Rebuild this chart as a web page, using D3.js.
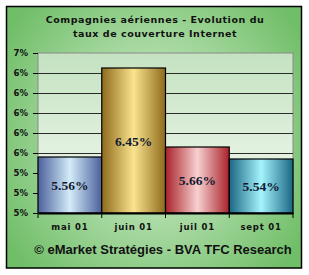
<!DOCTYPE html>
<html>
<head>
<meta charset="utf-8">
<script src="https://cdn.jsdelivr.net/npm/d3@7"></script>
<style>
  body { margin: 0; background: #fff; }
</style>
</head>
<body>
<div id="chart"></div>
<script>
// data
let months = ['mai 01', 'juin 01', 'juil 01', 'sept 01']
let taux = [5.56, 6.45, 5.66, 5.54]
let yTicks = [5.0, 5.2, 5.4, 5.6, 5.8, 6.0, 6.2, 6.4, 6.6]
let titleLines = ['Compagnies aériennes - Evolution du', 'taux de couverture Internet']
let source = '© eMarket Stratégies - BVA TFC Research'

let W = 309, H = 275
let margin = {top: 53, right: 16, bottom: 62, left: 38}
let width = W - margin.left - margin.right
let height = H - margin.top - margin.bottom

let svg = d3.select('div#chart')
  .append('svg')
    .attr('width', W)
    .attr('height', H)

let defs = svg.append('defs')

let bg = defs.append('radialGradient')
  .attr('id', 'bg')
  .attr('cx', '50%').attr('cy', '50%').attr('r', '60%')
  .attr('gradientTransform', 'translate(0.5,0.5) scale(1,1.2) translate(-0.5,-0.5)')
bg.append('stop').attr('offset', '0%').attr('stop-color', '#f2faef')
bg.append('stop').attr('offset', '40%').attr('stop-color', '#b0ddaa')
bg.append('stop').attr('offset', '100%').attr('stop-color', '#70be68')

let plotBg = defs.append('linearGradient')
  .attr('id', 'plotbg')
  .attr('x1', 0).attr('y1', 0).attr('x2', 0).attr('y2', 1)
plotBg.append('stop').attr('offset', '0%').attr('stop-color', '#c4e2c0')
plotBg.append('stop').attr('offset', '100%').attr('stop-color', '#f4fbf2')

let barColors = [
  ['#4c609c', '#d2ecf8'],
  ['#8e6a1c', '#fae48e'],
  ['#a8222a', '#f8d0d0'],
  ['#1a6684', '#a4f4fc']
]
barColors.forEach((c, i) => {
  let g = defs.append('linearGradient')
    .attr('id', 'bar' + i)
    .attr('x1', 0).attr('y1', 0).attr('x2', 1).attr('y2', 0)
  g.append('stop').attr('offset', '0%').attr('stop-color', c[0])
  g.append('stop').attr('offset', '50%').attr('stop-color', c[1])
  g.append('stop').attr('offset', '100%').attr('stop-color', c[0])
})

// outer frame
svg.append('rect')
  .attr('x', 6.5).attr('y', 6.5)
  .attr('width', 295).attr('height', 261.5)
  .attr('fill', 'url(#bg)')
  .attr('stroke', '#000')
  .attr('stroke-width', 1.5)

// title
svg.append('g').selectAll('text')
  .data(titleLines)
  .enter().append('text')
    .attr('x', 155)
    .attr('y', (d, i) => 23 + i * 14)
    .attr('text-anchor', 'middle')
    .attr('font-family', 'DejaVu Sans, Verdana, sans-serif')
    .attr('font-weight', 'bold')
    .attr('font-size', 9.5)
    .attr('letter-spacing', 0.55)
    .attr('fill', '#111')
    .text(d => d)

let chart = svg.append('g')
  .attr('transform', `translate(${margin.left}, ${margin.top})`)

let x = d3.scaleBand().domain(months).range([0, width]).padding(0)
let y = d3.scaleLinear().domain([5, 6.6]).range([height, 0])

chart.append('rect')
  .attr('width', width).attr('height', height)
  .attr('fill', 'url(#plotbg)')
  .attr('stroke', '#8a8a8a')

chart.append('g').selectAll('line')
  .data(yTicks.slice(1, -1))
  .enter().append('line')
    .attr('x1', 0).attr('x2', width)
    .attr('y1', d => Math.round(y(d)) + 0.5)
    .attr('y2', d => Math.round(y(d)) + 0.5)
    .attr('stroke', '#2b2b2b')

// bars
chart.append('g').selectAll('rect')
  .data(taux)
  .enter().append('rect')
    .attr('x', (d, i) => x(months[i]))
    .attr('y', d => y(d))
    .attr('width', x.bandwidth())
    .attr('height', d => height - y(d))
    .attr('fill', (d, i) => `url(#bar${i})`)
    .attr('stroke', '#000')
    .attr('stroke-width', 1.2)

chart.append('g').selectAll('text')
  .data(taux)
  .enter().append('text')
    .attr('x', (d, i) => x(months[i]) + x.bandwidth() / 2)
    .attr('y', d => (y(d) + height) / 2 + 5)
    .attr('text-anchor', 'middle')
    .attr('font-family', 'Liberation Serif, Times New Roman, serif')
    .attr('font-weight', 'bold')
    .attr('font-size', 13.5)
    .attr('fill', '#101830')
    .text(d => d3.format('.2f')(d) + '%')

// axes
let yAxis = d3.axisLeft(y)
  .tickValues(yTicks)
  .tickSize(5)
  .tickFormat(d => d3.format('.0%')(d / 100))

let gy = chart.append('g').call(yAxis)
gy.select('.domain').remove()
gy.selectAll('line').attr('stroke', '#000')
gy.selectAll('text')
  .attr('x', -10)
  .attr('font-family', 'DejaVu Sans, Verdana, sans-serif')
  .attr('font-weight', 'bold')
  .attr('font-size', 8.5)
  .attr('fill', '#111')

let gx = chart.append('g')
  .attr('transform', `translate(0, ${height})`)
  .call(d3.axisBottom(x).tickSize(0))
gx.select('.domain').attr('stroke', '#000').attr('stroke-width', 2)
gx.selectAll('text')
  .attr('dy', 0)
  .attr('y', 17)
  .attr('font-family', 'DejaVu Sans, Verdana, sans-serif')
  .attr('font-weight', 'bold')
  .attr('font-size', 8.5)
  .attr('letter-spacing', 0.8)
  .attr('fill', '#111')

gx.append('g').selectAll('line')
  .data(d3.range(months.length + 1))
  .enter().append('line')
    .attr('x1', i => i * x.bandwidth())
    .attr('x2', i => i * x.bandwidth())
    .attr('y1', 0).attr('y2', 5)
    .attr('stroke', '#000')

// source
svg.append('text')
  .attr('x', 163)
  .attr('y', 254)
  .attr('text-anchor', 'middle')
  .attr('font-family', 'Liberation Sans, Arial, sans-serif')
  .attr('font-weight', 'bold')
  .attr('font-size', 13)
  .attr('fill', '#111')
  .text(source)
</script>
</body>
</html>
